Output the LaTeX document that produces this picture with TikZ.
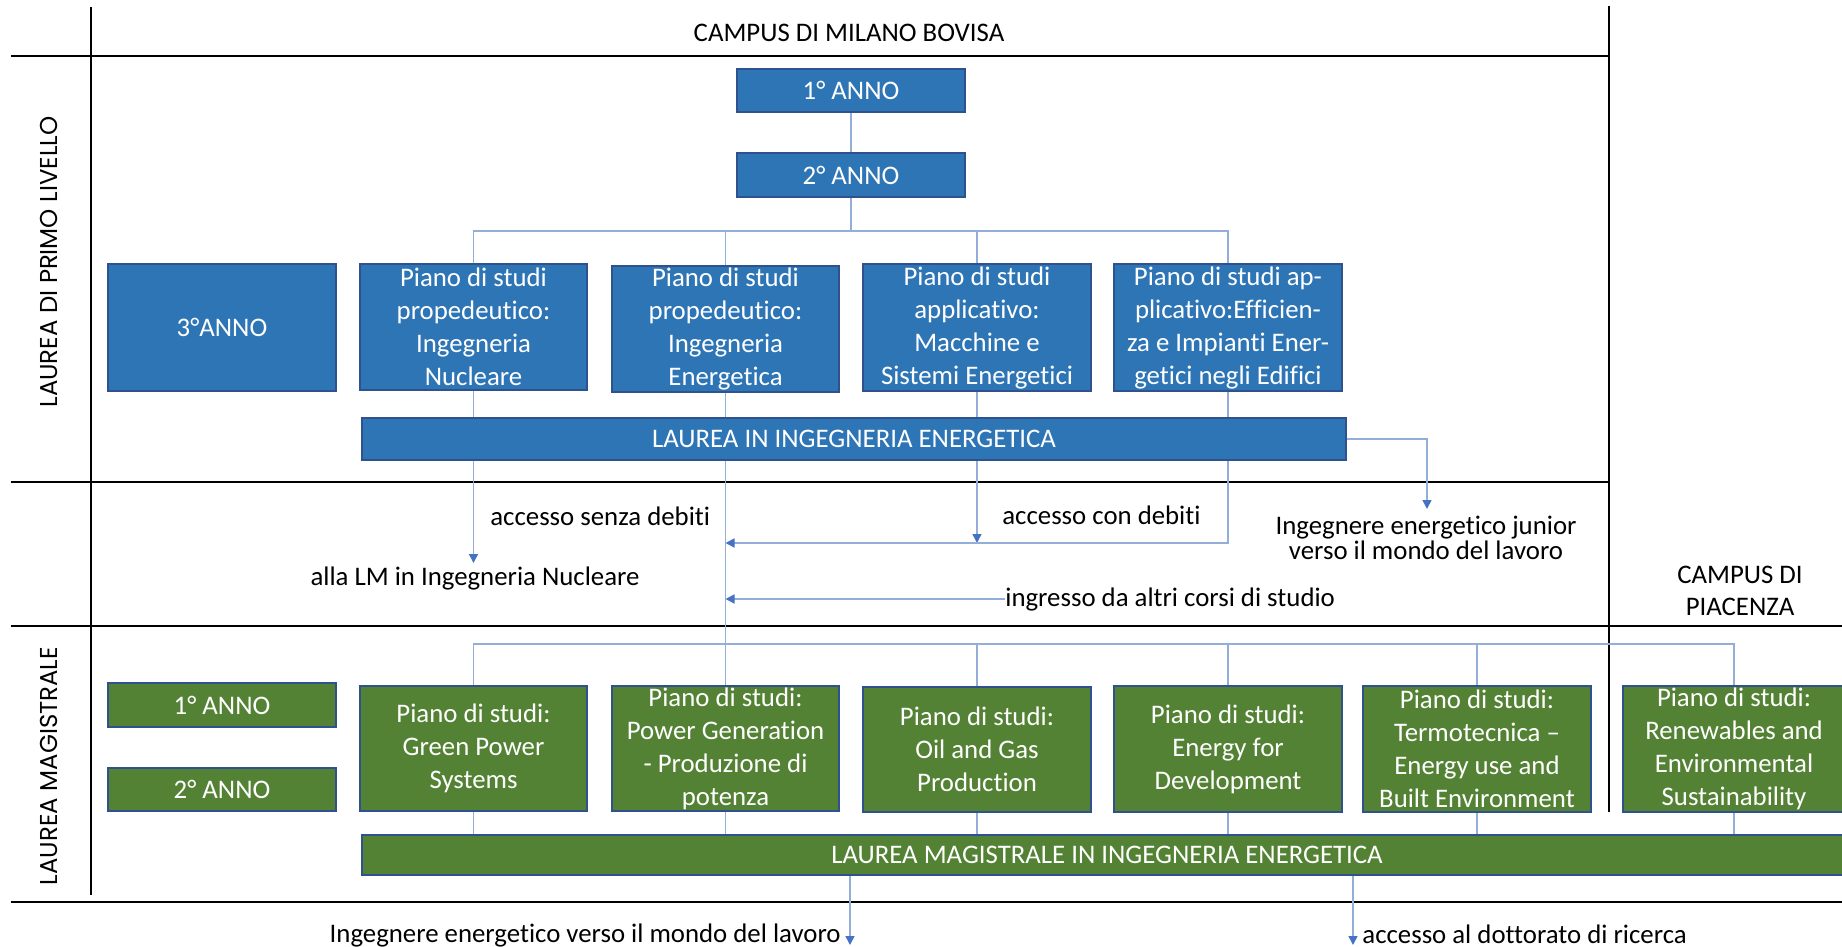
\documentclass[tikz,border=0pt]{standalone}
\usepackage{fontspec}
\setmainfont{Carlito}[Ligatures={NoCommon}]
\newfontfamily\geo{Poppins}
\usetikzlibrary{arrows.meta,calc}
\definecolor{boxblue}{HTML}{2E75B6}
\definecolor{boxgreen}{HTML}{548235}
\definecolor{boxedge}{HTML}{2F528F}
\definecolor{conncol}{HTML}{94AEDA}
\definecolor{tipcol}{HTML}{4472C4}
\tikzset{
  base/.style={draw=boxedge, line width=0.75pt, inner sep=0pt, text=white, align=center,
    font=\fontsize{13.4}{16.5}\selectfont},
  bluebox/.style={base, fill=boxblue},
  greenbox/.style={base, fill=boxgreen},
  sz/.style 2 args={minimum width=#1, minimum height=#2},
  grid line/.style={draw=black, line width=1pt},
  conn/.style={draw=conncol, line width=0.75pt},
  arr/.style={conn, -{Triangle[length=4.5pt,width=4.5pt,color=tipcol]}},
  lbl/.style={inner sep=0pt, text=black, font=\fontsize{13.4}{16.5}\selectfont},
  side/.style={inner sep=0pt, text=black, rotate=90, font=\geo\fontsize{12.2}{14}\selectfont},
}
\begin{document}
\begin{tikzpicture}[x=0.5pt,y=-0.5pt]
\useasboundingbox (0,0) rectangle (1842,947);
% grid lines
\draw[grid line] (91,7) -- (91,895);
\draw[grid line] (1609,6) -- (1609,812);
\draw[grid line] (11,56) -- (1609,56);
\draw[grid line] (11,482) -- (1609,482);
\draw[grid line] (11,626) -- (1842,626);
\draw[grid line] (11,902) -- (1842,902);
% headings
\node[lbl] (campusMi) at (849,33) {CAMPUS DI MILANO BOVISA};
\node[side] (lpl) at (49,262) {LAUREA DI PRIMO LIVELLO};
\node[side] (lmag) at (49,766) {LAUREA MAGISTRALE};
\node[lbl, align=center, font=\fontsize{13.4}{16}\selectfont] (campusPc) at (1740,591) {CAMPUS DI\\PIACENZA};
% blue boxes
\node[bluebox, sz={114pt}{21.5pt}] (a1) at (851,90.5) {1° ANNO};
\node[bluebox, sz={114pt}{22pt}] (a2) at (851,175) {2° ANNO};
\node[bluebox, sz={114pt}{63.5pt}] (a3) at (222,327.5) {3°ANNO};
\node[bluebox, sz={113.5pt}{63pt}] (nuc) at (473.5,327) {Piano di studi\\propedeutico:\\Ingegneria\\Nucleare};
\node[bluebox, sz={113.5pt}{63pt}] (ene) at (725.5,329) {Piano di studi\\propedeutico:\\Ingegneria\\Energetica};
\node[bluebox, sz={114pt}{63.5pt}] (mac) at (977,327.5) {Piano di studi\\applicativo:\\Macchine e\\Sistemi Energetici};
\node[bluebox, sz={114pt}{63.5pt}] (eff) at (1228,327.5) {Piano di studi ap-\\plicativo:Efficien-\\za e Impianti Ener-\\getici negli Edifici};
\node[bluebox, sz={492pt}{21pt}] (lau) at (854,439) {LAUREA IN INGEGNERIA ENERGETICA};
% green boxes
\node[greenbox, sz={114pt}{22pt}] (m1) at (222,705) {1° ANNO};
\node[greenbox, sz={114pt}{21.5pt}] (m2) at (222,789.5) {2° ANNO};
\node[greenbox, sz={113.5pt}{62.5pt}] (gp) at (473.5,748.5) {Piano di studi:\\Green Power\\Systems};
\node[greenbox, sz={113.5pt}{62.5pt}] (pg) at (725.5,748.5) {Piano di studi:\\Power Generation\\- Produzione di\\potenza};
\node[greenbox, sz={114pt}{62.5pt}] (oil) at (977,749.5) {Piano di studi:\\Oil and Gas\\Production};
\node[greenbox, sz={114pt}{63pt}] (efd) at (1228,749) {Piano di studi:\\Energy for\\Development};
\node[greenbox, sz={114pt}{63pt}] (ter) at (1477,749) {Piano di studi:\\Termotecnica –\\Energy use and\\Built Environment};
\node[greenbox, sz={111pt}{63pt}] (ren) at (1734,749) {Piano di studi:\\Renewables and\\Environmental\\Sustainability};
\node[greenbox, sz={745pt}{20pt}] (lm) at (1107,855) {LAUREA MAGISTRALE IN INGEGNERIA ENERGETICA};
% labels
\node[lbl, anchor=west] (senza) at (490,516) {accesso senza debiti};
\node[lbl] (allaLM) at (475,578) {alla LM in Ingegneria Nucleare};
\node[lbl, anchor=west] (con) at (1002,515) {accesso con debiti};
\node[lbl, anchor=west] (ingr) at (1005,599) {ingresso da altri corsi di studio};
\node[lbl, align=center, font=\fontsize{13.4}{11.5}\selectfont] (junior) at (1426,538) {Ingegnere energetico junior\\verso il mondo del lavoro};
\node[lbl, anchor=east] (lavoro) at (841,935) {Ingegnere energetico verso il mondo del lavoro};
\node[lbl, anchor=west] (dott) at (1362,934) {accesso al dottorato di ricerca};
% coordinates
\coordinate (br1) at (851,231);
\coordinate (br2) at (725.5,644);
\coordinate (nucEnd) at (473.5,563);
\coordinate (macEnd) at (977,543);
\coordinate (debJoin) at (725.5,543);
\coordinate (ingrJoin) at (725.5,599);
\coordinate (jrEnd) at (1427,509);
\coordinate (lavEnd) at (850,945);
\coordinate (dotEnd) at (1353,945);
% first level connectors
\draw[conn] (a1.south) -- (a2.north);
\draw[conn] (a2.south) -- (br1);
\draw[conn] (nuc.north) |- (br1) -| (eff.north);
\draw[conn] (ene.north) -- (ene.north |- br1);
\draw[conn] (mac.north) -- (mac.north |- br1);
\foreach \b in {nuc,ene,mac,eff} { \draw[conn] (\b.south) -- (\b.south |- lau.north); }
\draw[arr] (nuc.south |- lau.south) -- (nucEnd);
\draw[conn] (ene.south |- lau.south) -- (pg.north);
\draw[arr] (mac.south |- lau.south) -- (macEnd);
\draw[arr] (eff.south |- lau.south) |- (debJoin);
\draw[arr] (ingr.west) -- (ingrJoin);
\draw[arr] (lau.east) -| (jrEnd);
% second level connectors
\draw[conn] (gp.north) |- (br2) -| (ren.north);
\foreach \b in {oil,efd,ter} { \draw[conn] (\b.north) -- (\b.north |- br2); }
\foreach \b in {gp,pg,oil,efd,ter,ren} { \draw[conn] (\b.south) -- (\b.south |- lm.north); }
\draw[arr] (lavEnd |- lm.south) -- (lavEnd);
\draw[arr] (dotEnd |- lm.south) -- (dotEnd);
\end{tikzpicture}
\end{document}
